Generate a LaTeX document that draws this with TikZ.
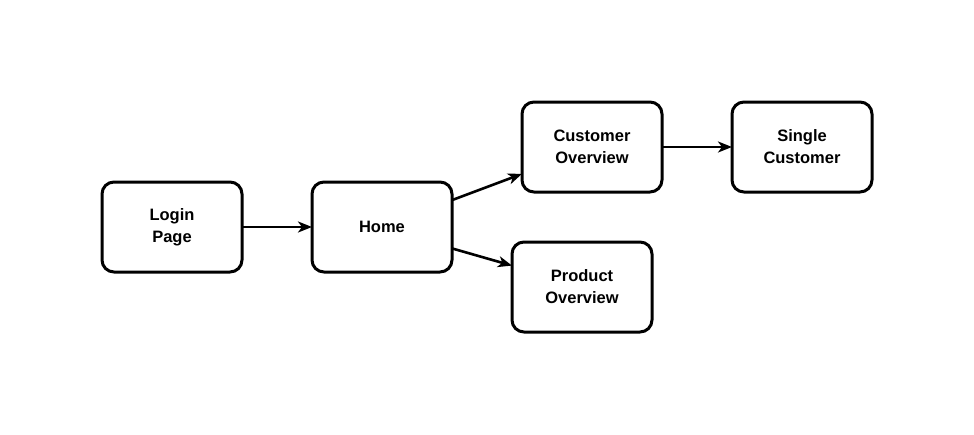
\documentclass[tikz,border=0pt]{standalone}
\usepackage{fontspec}
\setmainfont{Liberation Sans}
\usetikzlibrary{arrows.meta}
\begin{document}
\begin{tikzpicture}[x=1pt,y=-1pt,
  box/.style={draw=black, line width=3pt, rounded corners=12pt, minimum width=140pt, minimum height=90pt, align=center, font=\fontsize{16.5}{22}\selectfont\bfseries, fill=white, inner sep=0pt, outer sep=0pt, execute at begin node={\vspace*{6pt}}},
  conn/.style={line width=2.6pt, -{Stealth[length=14pt,width=11pt,inset=4pt]}}]
\useasboundingbox (0,0) rectangle (974,434);
\node[box] (login) at (172,227) {Login\\Page};
\node[box] (home) at (382,227) {Home};
\node[box] (cust) at (592,147) {Customer\\Overview};
\node[box] (single) at (802,147) {Single\\Customer};
\node[box] (prod) at (582,287) {Product\\Overview};
\draw[conn] (login.east) -- (home.west);
\draw[conn] (home.21) -- (cust.201.8);
\draw[conn] (home.343.3) -- (prod.163.3);
\draw[conn] (cust.east) -- (single.west);
\end{tikzpicture}
\end{document}
